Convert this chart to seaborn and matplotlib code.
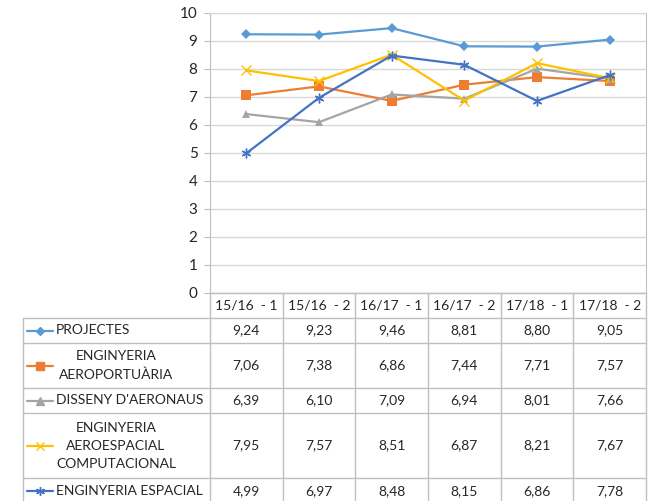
import matplotlib
matplotlib.use('Agg')
import matplotlib.pyplot as plt
import matplotlib.transforms as mtransforms
from matplotlib.lines import Line2D
import seaborn as sns
import pandas as pd

semesters = ['15/16  - 1', '15/16  - 2', '16/17  - 1', '16/17  - 2', '17/18  - 1', '17/18  - 2']
series_labels = ['PROJECTES', 'ENGINYERIA\nAEROPORTUÀRIA', "DISSENY D'AERONAUS",
                 'ENGINYERIA\nAEROESPACIAL\nCOMPUTACIONAL', 'ENGINYERIA ESPACIAL']
projectes = [9.24, 9.23, 9.46, 8.81, 8.80, 9.05]
aeroportuaria = [7.06, 7.38, 6.86, 7.44, 7.71, 7.57]
disseny = [6.39, 6.10, 7.09, 6.94, 8.01, 7.66]
computacional = [7.95, 7.57, 8.51, 6.87, 8.21, 7.67]
espacial = [4.99, 6.97, 8.48, 8.15, 6.86, 7.78]
all_values = [projectes, aeroportuaria, disseny, computacional, espacial]

colors = ['#5B9BD5', '#ED7D31', '#A5A5A5', '#FFC000', '#4472C4']
markers = ['D', 's', '^', 'x', (6, 2, 0)]
msizes = [5, 7, 6, 7, 7]

W, H = 652, 501
sns.set_style('white')
plt.rcParams['font.family'] = ['Lato', 'DejaVu Sans']
fig = plt.figure(figsize=(W / 100, H / 100), dpi=100)
ax = fig.add_axes([210 / W, 1 - 293 / H, (646 - 210) / W, (293 - 13) / H])

for name, vals, c, m, ms in zip(series_labels, all_values, colors, markers, msizes):
    df = pd.DataFrame({'x': range(len(semesters)), 'y': vals})
    sns.lineplot(data=df, x='x', y='y', ax=ax, color=c, marker=m, markersize=ms,
                 markeredgecolor=c, markeredgewidth=1.0 if m in ('x',) or isinstance(m, tuple) else 0,
                 linewidth=1.6, legend=False)

grid_c = '#d9d9d9'
line_c = '#bfbfbf'
ax.set_xlim(-0.5, len(semesters) - 0.5)
ax.set_ylim(0, 10)
ax.set_yticks(range(0, 11))
ax.set_xticks([])
ax.set_xlabel('')
ax.set_ylabel('')
ax.yaxis.grid(True, color=grid_c, linewidth=1)
ax.set_axisbelow(True)
for s in ['top', 'left', 'right', 'bottom']:
    ax.spines[s].set_visible(True)
    ax.spines[s].set_color(line_c)
ax.spines['top'].set_color(grid_c)
ax.tick_params(axis='y', length=4, color=line_c, labelsize=11, pad=5, left=True)

# data table below the plot
def fy(py):
    return 1 - py / H

def fx(px):
    return px / W

blend = mtransforms.blended_transform_factory(ax.transData, fig.transFigure)
row_edges = [293, 318, 343, 388, 413, 478, 503]
fs = 10

# horizontal lines
fig.add_artist(Line2D([fx(210), fx(646)], [fy(293), fy(293)], color=line_c, lw=1))
for py in row_edges[1:-1]:
    fig.add_artist(Line2D([fx(22.5), fx(646)], [fy(py), fy(py)], color=line_c, lw=1))
# vertical lines
for i in range(len(semesters) + 1):
    fig.add_artist(Line2D([i - 0.5, i - 0.5], [fy(293), fy(503)], color=line_c, lw=1,
                          transform=blend))
fig.add_artist(Line2D([fx(22.5), fx(22.5)], [fy(318), fy(503)], color=line_c, lw=1))

# header
for i, lab in enumerate(semesters):
    fig.text(i, fy(305.5), lab, transform=blend, ha='center', va='center', fontsize=fs)

# rows
for r, (name, vals, c, m, ms) in enumerate(zip(series_labels, all_values, colors, markers, msizes)):
    top, bot = row_edges[r + 1], row_edges[r + 2]
    cy = (top + bot) / 2 if r < 4 else 491
    fig.add_artist(Line2D([fx(27), fx(53)], [fy(cy), fy(cy)], color=c, lw=1.6))
    fig.add_artist(Line2D([fx(40)], [fy(cy)], color=c, marker=m, markersize=ms * 0.9,
                          markeredgecolor=c, lw=0))
    if '\n' in name:
        fig.text(fx(116), fy(cy), name, ha='center', va='center', fontsize=fs,
                 multialignment='center', linespacing=1.6)
    else:
        fig.text(fx(56), fy(cy), name, ha='left', va='center', fontsize=fs)
    for i, v in enumerate(vals):
        fig.text(i, fy(cy), f'{v:.2f}'.replace('.', ','), transform=blend,
                 ha='center', va='center', fontsize=fs)

fig.savefig('out.png', dpi=100)
